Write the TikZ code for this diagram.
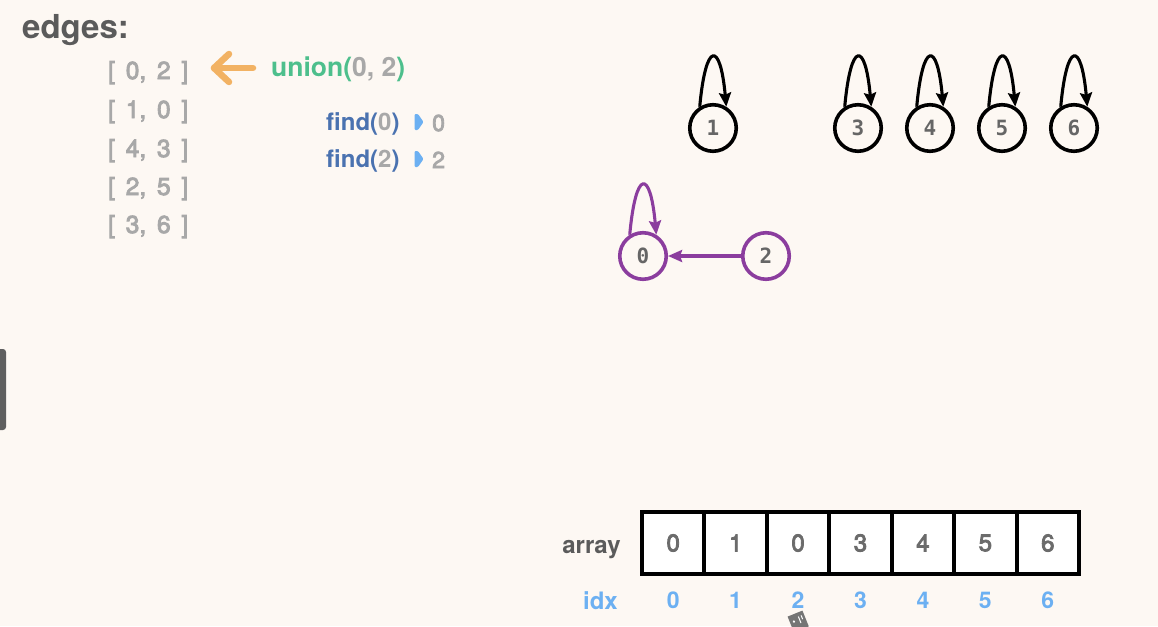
\documentclass[tikz,border=0pt]{standalone}
\usepackage{fontspec}
\setmainfont{TeX Gyre Heros}
\newfontfamily\medfont[FakeBold=3.5]{TeX Gyre Heros}
\newfontfamily\monofnt{DejaVu Sans Mono}
\usetikzlibrary{arrows.meta,calc}
\definecolor{bg}{HTML}{FDF8F3}
\definecolor{darktext}{HTML}{5B5B5B}
\definecolor{lightgray}{HTML}{A8A8A8}
\definecolor{ugreen}{HTML}{4DBF8C}
\definecolor{fblue}{HTML}{4A72B0}
\definecolor{lblue}{HTML}{6CB0F2}
\definecolor{uorange}{HTML}{F2B263}
\definecolor{purp}{HTML}{8B3D9E}
\definecolor{nodegray}{HTML}{666666}
\definecolor{cellgray}{HTML}{6B6B6B}
\definecolor{bargray}{HTML}{5F5F5F}
\newcommand{\esp}{\hspace{0.44em}}
\begin{document}
\begin{tikzpicture}[x=1pt,y=-1pt,
  gnode/.style={circle, draw=black, line width=3.6pt, minimum size=46.5pt, inner sep=0pt,
    font=\monofnt\bfseries\fontsize{21}{21}\selectfont, text=nodegray},
  pnode/.style={gnode, draw=purp},
  loopedge/.style={line width=3.1pt, -{Stealth[length=14pt,width=12pt,inset=2pt]}},
  edgetxt/.style={anchor=base west, inner sep=0pt, text=lightgray, font=\medfont\fontsize{24.5}{30}\selectfont},
  findtxt/.style={anchor=base west, inner sep=0pt, font=\bfseries\fontsize{24}{27}\selectfont},
  uniontxt/.style={anchor=base west, inner sep=0pt, font=\bfseries\fontsize{26.5}{30}\selectfont},
  restxt/.style={anchor=base west, inner sep=0pt, text=lightgray, font=\medfont\fontsize{23}{27}\selectfont},
  cell/.style={draw=black, line width=4pt, fill=white, minimum width=62.43pt, minimum height=62pt,
    inner sep=0pt, text=cellgray, font=\medfont\fontsize{24}{28}\selectfont},
  idxtxt/.style={inner sep=0pt, text=lblue, font=\bfseries\fontsize{23}{27}\selectfont},
  marker/.style={fill=lblue}
]
\fill[bg] (0,0) rectangle (1158,626);
\useasboundingbox (0,0) rectangle (1158,626);

% left bar artifact
\fill[bargray, rounded corners=3pt] (-6,349) rectangle (6,430);

% edges list
\node[anchor=base west, inner sep=0pt, text=darktext, font=\bfseries\fontsize{33}{37}\selectfont] (title) at (22,39) {edges:};
\node[edgetxt] (e0) at (108,79) {[\esp0,\esp2\esp]};
\node[edgetxt] (e1) at (108,118) {[\esp1,\esp0\esp]};
\node[edgetxt] (e2) at (108,157) {[\esp4,\esp3\esp]};
\node[edgetxt] (e3) at (108,195) {[\esp2,\esp5\esp]};
\node[edgetxt] (e4) at (108,233) {[\esp3,\esp6\esp]};

% union
\node[uniontxt] (union) at (271,77) {\textcolor{ugreen}{union(}\textcolor{lightgray}{0, 2}\textcolor{ugreen}{)}};
\coordinate (ua) at (253,68);
\coordinate (ub) at (214,68);
\draw[uorange, line width=6.5pt, line cap=round, line join=round] (ua) -- (ub);
\draw[uorange, line width=6.5pt, line cap=round, line join=round] ($(ub)+(15,-14)$) -- (ub) -- ($(ub)+(15,14)$);

% find
\node[findtxt] (f0) at (326,130) {\textcolor{fblue}{find(}\textcolor{lightgray}{0}\textcolor{fblue}{)}};
\node[findtxt] (f2) at (326,167) {\textcolor{fblue}{find(}\textcolor{lightgray}{2}\textcolor{fblue}{)}};
\fill[marker, rounded corners=1pt] (414.5,114) -- (418,114) -- (423.5,122) -- (418,130) -- (414.5,130) -- cycle;
\fill[marker, rounded corners=1pt] (414.5,151) -- (418,151) -- (423.5,159) -- (418,167) -- (414.5,167) -- cycle;
\node[restxt] (r0) at (432,131) {0};
\node[restxt] (r2) at (432,168) {2};

% graph nodes
\node[gnode] (n1) at (713,128) {1};
\node[gnode] (n3) at (858,128) {3};
\node[gnode] (n4) at (930,128) {4};
\node[gnode] (n5) at (1002,128) {5};
\node[gnode] (n6) at (1074,128) {6};
\node[pnode] (n0) at (643,256) {0};
\node[pnode] (n2) at (766,256) {2};

\foreach \n in {n1,n3,n4,n5,n6}{
  \draw[loopedge] (\n.122) .. controls +(6,-66) and +(-6,-66) .. (\n.58);
}
\draw[loopedge, purp] (n0.122) .. controls +(6,-66) and +(-6,-66) .. (n0.58);
\draw[loopedge, purp] (n2) -- (n0);

% array
\node[anchor=base east, inner sep=0pt, text=darktext, font=\bfseries\fontsize{24}{28}\selectfont] (arr) at (621,553) {array};
\foreach \v [count=\i from 0] in {0,1,0,3,4,5,6}{
  \node[cell] (c\i) at ({673.2+62.43*\i},543) {\v};
  \node[idxtxt] (i\i) at ({673.2+62.43*\i},600) {\i};
}
\node[anchor=base east, inner sep=0pt, text=lblue, font=\bfseries\fontsize{24}{28}\selectfont] (idx) at (618,609) {idx};

% cursor artifact
\begin{scope}[rotate around={22:(798,621)}]
\fill[nodegray!90] (790,613) rectangle (806,630);
\draw[white, line width=1pt] (800,617) -- (800,624) (803,617) -- (803,621);
\fill[white] (794,620) circle (1.3pt);
\end{scope}
\end{tikzpicture}
\end{document}
